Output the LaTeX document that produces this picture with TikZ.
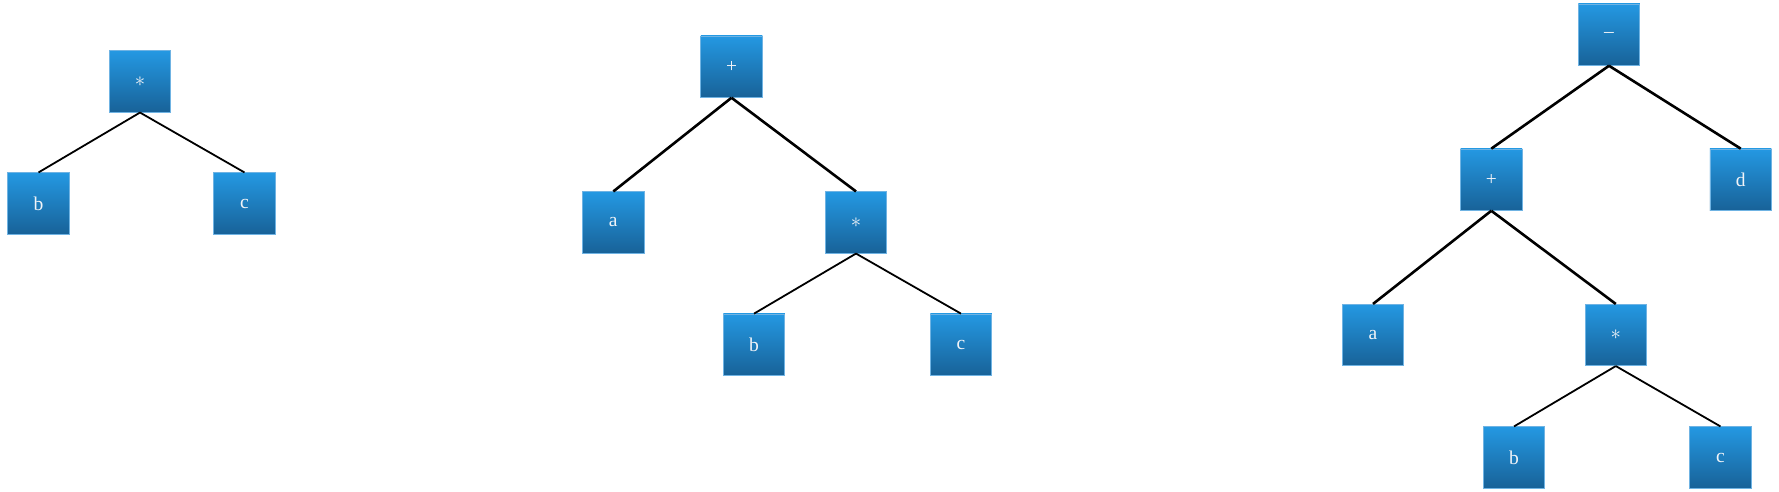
\documentclass[tikz,border=0pt]{standalone}
\usepackage{fontspec}
\setmainfont{Liberation Serif}
\definecolor{boxtop}{HTML}{2498E2}
\definecolor{boxbot}{HTML}{186298}
\definecolor{boxedge}{HTML}{6FB3E3}
\definecolor{txt}{HTML}{F2F4F8}
\begin{document}
\begin{tikzpicture}[x=1pt,y=-1pt,
  tbox/.style={rectangle, minimum width=61.5pt, minimum height=61.5pt, inner sep=0pt,
    top color=boxtop, bottom color=boxbot, draw=boxedge, line width=0.6pt,
    text=txt, font=\fontsize{19.5}{19.5}\selectfont},
  thin edge/.style={line width=1.8pt, black},
  thick edge/.style={line width=2.6pt, black}]
\useasboundingbox (0,0) rectangle (1779,492);
% tree 1
\node[tbox] (t1m) at (140,81.5) {$\ast$};
\node[tbox] (t1b) at (38.5,203.5) {b};
\node[tbox] (t1c) at (244.5,203.5) {c};
\draw[thin edge] (t1m.south) -- (t1b.north);
\draw[thin edge] (t1m.south) -- (t1c.north);
% tree 2
\node[tbox] (t2p) at (731.5,66.7) {+};
\node[tbox] (t2a) at (613.3,222.5) {a};
\node[tbox] (t2m) at (856,222.5) {$\ast$};
\node[tbox] (t2b) at (754,344.7) {b};
\node[tbox] (t2c) at (961,344.7) {c};
\draw[thick edge] (t2p.south) -- (t2a.north);
\draw[thick edge] (t2p.south) -- (t2m.north);
\draw[thin edge] (t2m.south) -- (t2b.north);
\draw[thin edge] (t2m.south) -- (t2c.north);
% tree 3
\node[tbox] (t3s) at (1609,34.7) {–};
\node[tbox] (t3p) at (1491.3,179.7) {+};
\node[tbox] (t3d) at (1740.7,179.7) {d};
\node[tbox] (t3a) at (1373,335) {a};
\node[tbox] (t3m) at (1615.8,335) {$\ast$};
\node[tbox] (t3b) at (1514,457.5) {b};
\node[tbox] (t3c) at (1720.5,457.5) {c};
\draw[thick edge] (t3s.south) -- (t3p.north);
\draw[thick edge] (t3s.south) -- (t3d.north);
\draw[thick edge] (t3p.south) -- (t3a.north);
\draw[thick edge] (t3p.south) -- (t3m.north);
\draw[thin edge] (t3m.south) -- (t3b.north);
\draw[thin edge] (t3m.south) -- (t3c.north);
\end{tikzpicture}
\end{document}
